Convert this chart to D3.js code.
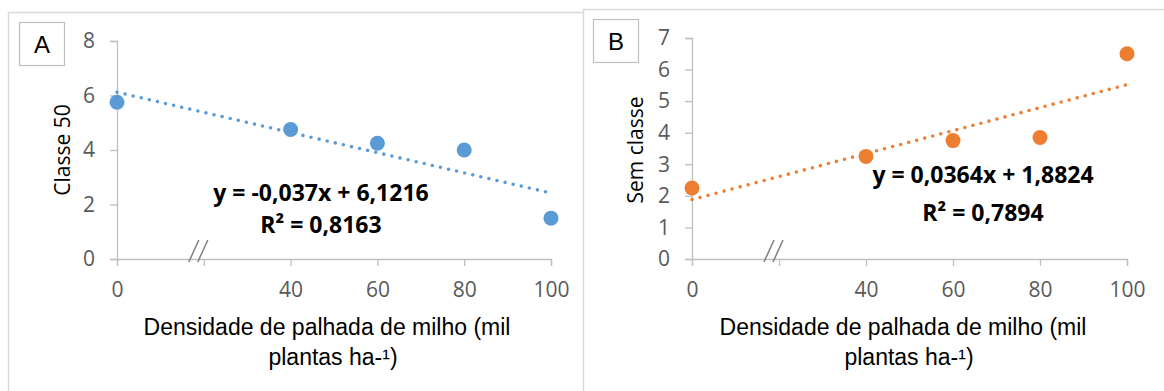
<!DOCTYPE html>
<html>
<head>
<meta charset="utf-8">
<script src="https://cdn.jsdelivr.net/npm/d3@7"></script>
<style>
  body { margin: 0; background: #fff; }
  svg { display: block; }
</style>
</head>
<body>
<div id="chart"></div>
<script>
// data
const densidade = [0, 40, 60, 80, 100];
const classe50 = [5.75, 4.75, 4.25, 4.0, 1.5];
const semClasse = [2.25, 3.25, 3.75, 3.85, 6.5];

const xTicks = [0, 20, 40, 60, 80, 100];
const xTickLabels = ["0", "", "40", "60", "80", "100"];
const yTicksA = [0, 2, 4, 6, 8];
const yTicksB = [0, 1, 2, 3, 4, 5, 6, 7];

const trendA = [-0.037, 6.1216];   // slope, intercept
const trendB = [0.0364, 1.8824];
const eqA = ["y = -0,037x + 6,1216", "R² = 0,8163"];
const eqB = ["y = 0,0364x + 1,8824", "R² = 0,7894"];

const W = 1164, H = 391;
const svg = d3.select("#chart").append("svg").attr("width", W).attr("height", H);

// panel frames
svg.append("rect").attr("x", 8.5).attr("y", 12.5).attr("width", 600).attr("height", 400)
  .attr("fill", "#fff").attr("stroke", "#d9d9d9").attr("stroke-width", 1.5);
svg.append("rect").attr("x", 583.5).attr("y", 9.5).attr("width", 600).attr("height", 400)
  .attr("fill", "#fff").attr("stroke", "#d9d9d9").attr("stroke-width", 1.5);

function drawPanel(p) {
  const g = svg.append("g");
  const x = d3.scaleLinear().domain([0, 100]).range(p.xRange);
  const y = d3.scaleLinear().domain([0, p.yMax]).range([259, p.yTop]);

  // letter box
  g.append("rect").attr("x", p.box[0] + 0.5).attr("y", p.box[1] + 0.5)
    .attr("width", 45).attr("height", 43)
    .attr("fill", "#fff").attr("stroke", "#bfbfbf").attr("stroke-width", 1.2);
  g.append("text").attr("x", p.box[0] + 23).attr("y", p.box[1] + 31)
    .attr("text-anchor", "middle")
    .style("font", "24px 'Liberation Sans', Arial, sans-serif").attr("fill", "#000")
    .text(p.letter);

  // y axis
  const yAxis = g.append("g").attr("transform", `translate(${p.xRange[0]},0)`)
    .call(d3.axisLeft(y).tickValues(p.yTicks).tickSize(7).tickPadding(15)
      .tickFormat(d3.format("d")));
  // x axis
  const xAxis = g.append("g").attr("transform", "translate(0,259)")
    .call(d3.axisBottom(x).tickValues(xTicks).tickSize(7).tickPadding(16)
      .tickFormat((d, i) => xTickLabels[i]));
  [yAxis, xAxis].forEach(a => {
    a.select(".domain").attr("stroke", "#bfbfbf").attr("stroke-width", 1.3);
    a.selectAll(".tick line").attr("stroke", "#bfbfbf").attr("stroke-width", 1.3);
    a.selectAll(".tick text").attr("fill", "#595959")
      .style("font", "21px 'Open Sans', sans-serif");
  });

  // axis break marks near x = 20
  const bx = x(20) - 5;
  [-5, 4].forEach(o => {
    g.append("line")
      .attr("x1", bx + o - 5).attr("y1", 262)
      .attr("x2", bx + o + 5).attr("y2", 240)
      .attr("stroke", "#7f7f7f").attr("stroke-width", 1.5);
  });

  // y title
  g.append("text")
    .attr("transform", `translate(${p.yTitleX},150) rotate(-90)`)
    .attr("text-anchor", "middle")
    .style("font", "21px 'Open Sans', sans-serif").attr("fill", "#000")
    .text(p.yTitle);

  // x title (two lines)
  const xt = g.append("text").attr("text-anchor", "middle")
    .style("font", "23px 'Liberation Sans', Arial, sans-serif").attr("fill", "#000");
  xt.append("tspan").attr("x", p.xTitleX).attr("y", 335).text("Densidade de palhada de milho (mil");
  xt.append("tspan").attr("x", p.xTitleX + 6).attr("y", 365).text("plantas ha-¹)");

  // trend line
  const tr = [0, 100].map(v => [x(v), y(p.trend[0] * v + p.trend[1])]);
  g.append("path").attr("d", d3.line()(tr))
    .attr("fill", "none").attr("stroke", p.color)
    .attr("stroke-width", 3.6).attr("stroke-linecap", "round")
    .attr("stroke-dasharray", "0 8.3");

  // points
  g.selectAll("circle.pt").data(densidade).join("circle")
    .attr("class", "pt")
    .attr("cx", d => x(d))
    .attr("cy", (d, i) => y(p.values[i]))
    .attr("r", 7.5)
    .attr("fill", p.color);

  // equation
  const eq = g.append("text").attr("text-anchor", "middle")
    .style("font", "bold 23px 'Open Sans', sans-serif").attr("fill", "#000");
  eq.append("tspan").attr("x", p.eqPos[0]).attr("y", p.eqPos[1]).text(p.eq[0]);
  eq.append("tspan").attr("x", p.eqPos[0]).attr("y", p.eqPos[1] + p.eqGap).text(p.eq[1]);
}

drawPanel({
  letter: "A", box: [19, 22], xRange: [117, 551], yMax: 8, yTop: 41, yTicks: yTicksA,
  values: classe50, color: "#5b9bd5", trend: trendA, eq: eqA,
  eqPos: [321, 201], eqGap: 32, yTitle: "Classe 50", yTitleX: 70, xTitleX: 327
});
drawPanel({
  letter: "B", box: [593, 19], xRange: [692, 1127], yMax: 7, yTop: 38, yTicks: yTicksB,
  values: semClasse, color: "#ed7d31", trend: trendB, eq: eqB,
  eqPos: [983, 183], eqGap: 38, yTitle: "Sem classe", yTitleX: 643, xTitleX: 903
});
</script>
</body>
</html>
